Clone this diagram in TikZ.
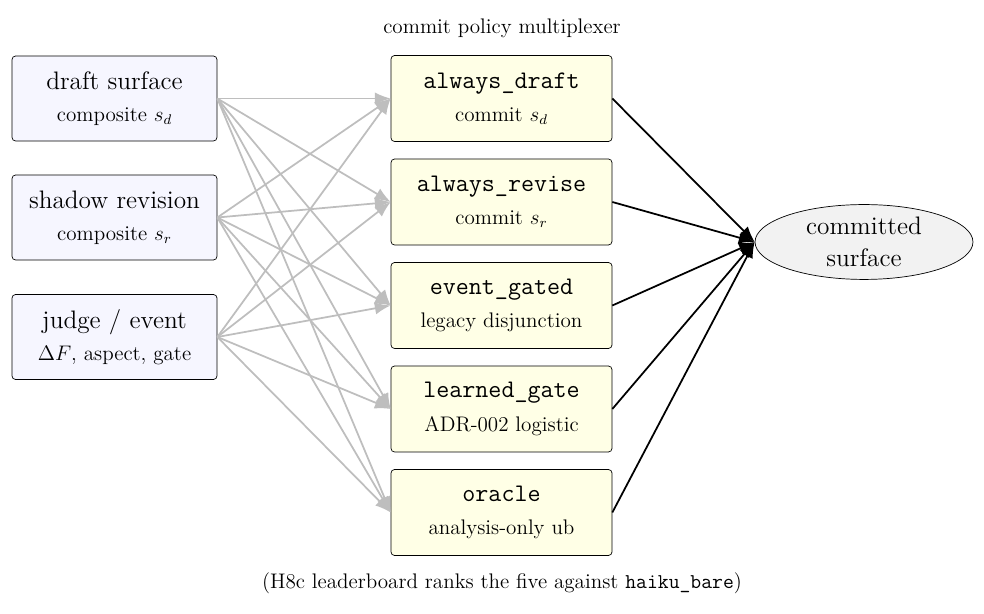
\documentclass[tikz,border=0pt]{standalone}
\usetikzlibrary{arrows.meta,shapes.geometric}
\definecolor{inbg}{RGB}{246,246,255}
\definecolor{polbg}{RGB}{255,255,230}
\definecolor{outbg}{RGB}{242,242,242}
\definecolor{feed}{RGB}{190,190,190}
\begin{document}
\begin{tikzpicture}[x=0.02cm,y=-0.02cm,
  inbox/.style={draw,rounded corners=2pt,fill=inbg,minimum width=4.1cm,minimum height=1.7cm,align=center,font=\Large},
  polbox/.style={draw,rounded corners=2pt,fill=polbg,minimum width=4.42cm,minimum height=1.72cm,align=center,font=\Large},
  feedarr/.style={draw=feed,line width=1pt,-{Latex[length=9pt,width=7pt]}},
  outarr/.style={draw=black,line width=1pt,-{Latex[length=9pt,width=7pt]}}]
\useasboundingbox (0,0) rectangle (984,614);
\node[font=\large] (title) at (502,28) {commit policy multiplexer};
\node[inbox] (d) at (114.5,98.5) {draft surface\\[0pt]{\large composite $s_d$}};
\node[inbox] (s) at (114.5,217.5) {shadow revision\\[0pt]{\large composite $s_r$}};
\node[inbox] (j) at (114.5,337) {judge / event\\[0pt]{\large $\Delta F$, aspect, gate}};
\node[polbox] (p1) at (501.5,98.5) {\texttt{always\_draft}\\[1pt]{\large commit $s_d$}};
\node[polbox] (p2) at (501.5,202) {\texttt{always\_revise}\\[1pt]{\large commit $s_r$}};
\node[polbox] (p3) at (501.5,305.5) {\texttt{event\_gated}\\[1pt]{\large legacy disjunction}};
\node[polbox] (p4) at (501.5,409) {\texttt{learned\_gate}\\[1pt]{\large ADR-002 logistic}};
\node[polbox] (p5) at (501.5,512.5) {\texttt{oracle}\\[1pt]{\large analysis-only ub}};
\node[draw,ellipse,fill=outbg,minimum width=4.36cm,minimum height=1.4cm,inner sep=1pt,align=center,font=\Large] (c) at (864,242) {committed\\surface};
\foreach \a in {d,s,j}{\foreach \b in {p1,p2,p3,p4,p5}{\draw[feedarr] (\a.east) -- (\b.west);}}
\foreach \b in {p1,p2,p3,p4,p5}{\draw[outarr] (\b.east) -- (c.west);}
\node[font=\large] (cap) at (502,583) {(H8c leaderboard ranks the five against \texttt{haiku\_bare})};
\end{tikzpicture}
\end{document}
